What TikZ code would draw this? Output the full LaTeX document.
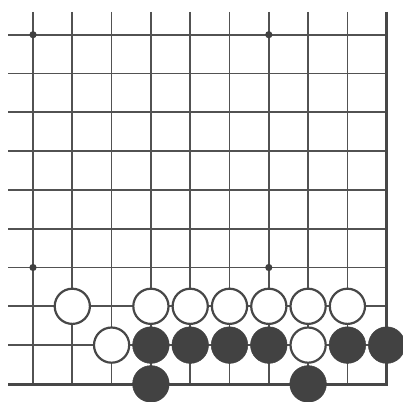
\documentclass[tikz,border=0pt]{standalone}
\begin{document}
\begin{tikzpicture}[x=1pt,y=-1pt,
  gridline/.style={draw=black!68,line width=1.7pt},
  edgeline/.style={draw=black!72,line width=3pt},
  whitestone/.style={fill=white,draw=black!72,line width=2.2pt},
  blackstone/.style={fill=black!74,draw=black!74,line width=0.5pt},
  starpt/.style={fill=black!75}]
\useasboundingbox (0,0) rectangle (403,401);
% vertical lines
\foreach \i in {0,...,8}{
  \draw[gridline] ({33+39.3*\i},12) -- ({33+39.3*\i},384);
}
% horizontal lines
\foreach \j in {0,...,8}{
  \draw[gridline] (8,{34.7+38.8*\j}) -- (386.7,{34.7+38.8*\j});
}
% edges
\draw[edgeline] (386.7,12) -- (386.7,385.5);
\draw[edgeline] (8,384) -- (388.2,384);
% star points
\foreach \i/\j in {0/0,6/0,0/6,6/6}{
  \fill[starpt] ({33+39.3*\i},{34.7+38.8*\j}) circle (3.6);
}
% white stones
\foreach \i/\j in {1/7,3/7,4/7,5/7,6/7,7/7,8/7,2/8,7/8}{
  \draw[whitestone] ({33+39.3*\i},{34.7+38.8*\j}) circle (17.6);
}
% black stones
\foreach \i/\j in {3/8,4/8,5/8,6/8,8/8,9/8,3/9,7/9}{
  \draw[blackstone] ({33+39.3*\i},{34.7+38.8*\j}) circle (18.3);
}
\end{tikzpicture}
\end{document}
